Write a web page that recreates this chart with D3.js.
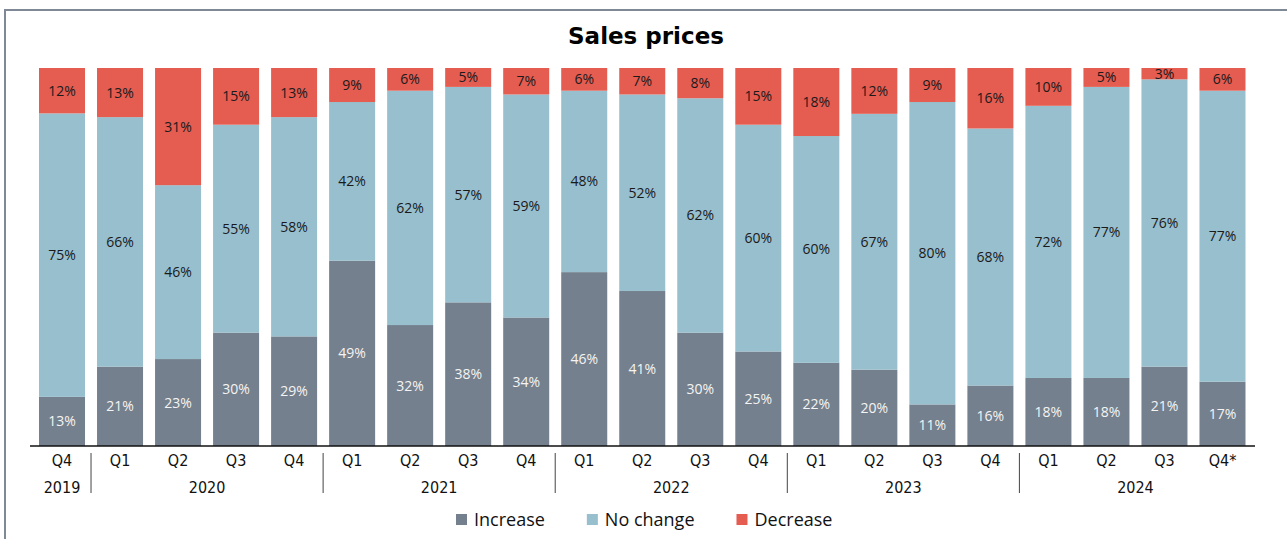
<!DOCTYPE html>
<html>
<head>
<meta charset="utf-8">
<script src="https://cdn.jsdelivr.net/npm/d3@7"></script>
<style>
  html, body { margin: 0; padding: 0; background: #fff; }
  svg { display: block; }
</style>
</head>
<body>
<div id="chart"></div>
<script>
// data
const quarters = ['Q4', 'Q1', 'Q2', 'Q3', 'Q4', 'Q1', 'Q2', 'Q3', 'Q4', 'Q1', 'Q2', 'Q3', 'Q4',
  'Q1', 'Q2', 'Q3', 'Q4', 'Q1', 'Q2', 'Q3', 'Q4*'];
const years = ['2019', '2020', '2021', '2022', '2023', '2024'];
const quartersPerYear = [1, 4, 4, 4, 4, 4];
const increase = [13, 21, 23, 30, 29, 49, 32, 38, 34, 46, 41, 30, 25, 22, 20, 11, 16, 18, 18, 21, 17];
const noChange = [75, 66, 46, 55, 58, 42, 62, 57, 59, 48, 52, 62, 60, 60, 67, 80, 68, 72, 77, 76, 77];
const decrease = [12, 13, 31, 15, 13, 9, 6, 5, 7, 6, 7, 8, 15, 18, 12, 9, 16, 10, 5, 3, 6];
const seriesNames = ['Increase', 'No change', 'Decrease'];

const colors = { 'Increase': '#74808d', 'No change': '#97bfcd', 'Decrease': '#e55c51' };
const labelColors = { 'Increase': '#f4f4f4', 'No change': '#1a1a1a', 'Decrease': '#1a1a1a' };

const width = 1287;
const height = 539;
const plotTop = 68;
const baseline = 446;

const svg = d3.select('#chart')
  .append('svg')
  .attr('width', width)
  .attr('height', height);

// frame
svg.append('path')
  .attr('d', `M5,${height} V10 H${width}`)
  .attr('fill', 'none')
  .attr('stroke', '#7f8995')
  .attr('stroke-width', 2);

svg.append('text')
  .attr('x', 646)
  .attr('y', 44)
  .attr('text-anchor', 'middle')
  .style('font-family', '"DejaVu Sans", sans-serif')
  .style('font-weight', 'bold')
  .style('font-size', '23px')
  .attr('fill', '#000')
  .text('Sales prices');

const rows = quarters.map((q, i) => ({
  i: i,
  'Increase': increase[i],
  'No change': noChange[i],
  'Decrease': decrease[i]
}));

const stacked = d3.stack()
  .keys(seriesNames)
  .offset(d3.stackOffsetExpand)(rows);

const x = d3.scaleBand()
  .domain(d3.range(quarters.length))
  .range([33, 1251.5])
  .paddingInner(0.207)
  .paddingOuter(0.1035);

const y = d3.scaleLinear()
  .domain([0, 1])
  .range([baseline, plotTop]);

const layers = svg.selectAll('g.layer')
  .data(stacked)
  .enter()
  .append('g')
  .attr('class', 'layer');

layers.selectAll('rect')
  .data(d => d.map(p => ({ key: d.key, p: p })))
  .enter()
  .append('rect')
  .attr('x', d => x(d.p.data.i))
  .attr('width', x.bandwidth())
  .attr('y', d => y(d.p[1]))
  .attr('height', d => y(d.p[0]) - y(d.p[1]))
  .attr('fill', d => colors[d.key]);

layers.selectAll('text')
  .data(d => d.map(p => ({ key: d.key, p: p })))
  .enter()
  .append('text')
  .attr('x', d => x(d.p.data.i) + x.bandwidth() / 2)
  .attr('y', d => (y(d.p[0]) + y(d.p[1])) / 2)
  .attr('dy', '0.36em')
  .attr('text-anchor', 'middle')
  .style('font-family', '"Open Sans", sans-serif')
  .style('font-size', '14px')
  .attr('fill', d => labelColors[d.key])
  .text(d => d.p.data[d.key] + '%');

// x axis
const axis = svg.append('g')
  .attr('transform', `translate(0,${baseline})`)
  .call(d3.axisBottom(x).tickSize(0).tickPadding(9).tickFormat(i => quarters[i]));
axis.select('.domain').remove();
axis.selectAll('text')
  .style('font-family', '"Liberation Sans Narrow", "DejaVu Sans Condensed", sans-serif')
  .style('font-size', '16px')
  .attr('fill', '#111');

svg.append('line')
  .attr('x1', 30)
  .attr('x2', 1255)
  .attr('y1', baseline)
  .attr('y2', baseline)
  .attr('stroke', '#111')
  .attr('stroke-width', 1.5);

// year groups
let start = 0;
years.forEach((yr, k) => {
  const n = quartersPerYear[k];
  const first = x(start);
  const last = x(start + n - 1) + x.bandwidth();
  svg.append('text')
    .attr('x', (first + last) / 2)
    .attr('y', 493)
    .attr('text-anchor', 'middle')
    .style('font-family', '"Liberation Sans Narrow", "DejaVu Sans Condensed", sans-serif')
    .style('font-size', '16px')
    .attr('fill', '#111')
    .text(yr);
  if (k < years.length - 1) {
    const sx = last + (x.step() - x.bandwidth()) / 2;
    svg.append('line')
      .attr('x1', sx)
      .attr('x2', sx)
      .attr('y1', 453)
      .attr('y2', 493)
      .attr('stroke', '#444')
      .attr('stroke-width', 1);
  }
  start += n;
});

// legend
const legend = svg.append('g').attr('transform', 'translate(456,520)');
let lx = 0;
seriesNames.forEach(name => {
  legend.append('rect')
    .attr('x', lx)
    .attr('y', -6)
    .attr('width', 11)
    .attr('height', 11)
    .attr('fill', colors[name]);
  const t = legend.append('text')
    .attr('x', lx + 18)
    .attr('y', 0)
    .attr('dy', '0.35em')
    .style('font-family', '"Open Sans", sans-serif')
    .style('font-size', '18px')
    .attr('fill', '#111')
    .text(name);
  lx += 18 + t.node().getComputedTextLength() + 42;
});
</script>
</body>
</html>
